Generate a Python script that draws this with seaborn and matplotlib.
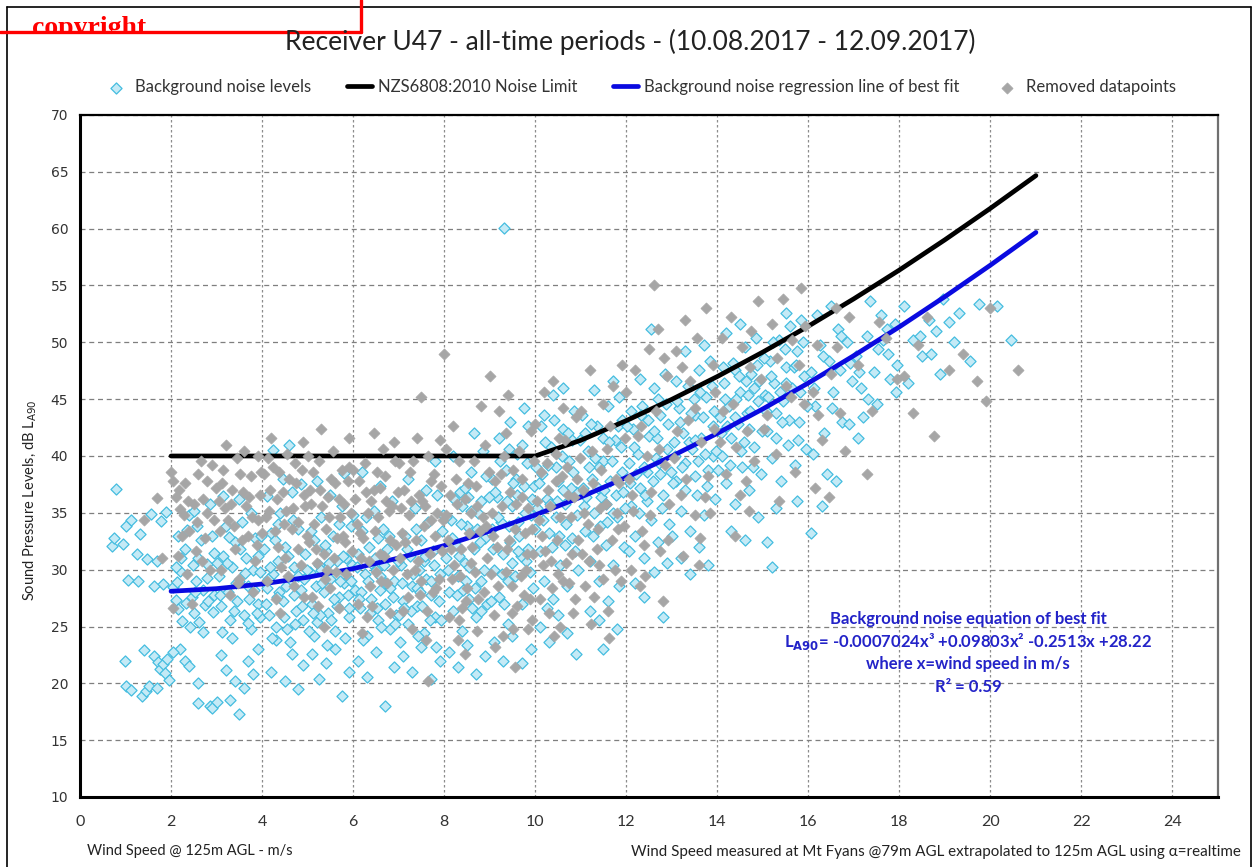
import numpy as np
import pandas as pd
import matplotlib
matplotlib.use("Agg")
import matplotlib.pyplot as plt
from matplotlib.transforms import Bbox, TransformedBbox
from matplotlib.lines import Line2D
import seaborn as sns

# background noise levels (wind speed m/s, dB LA90)
background_pts = [
    (0.78,37.1),(0.70,32.1),(0.74,32.8),(0.95,32.3),(1.02,33.8),(1.12,34.4),(1.05,29.1),(1.28,29.0),
    (1.25,31.4),(1.48,30.9),(1.70,30.8),(1.55,34.9),(1.78,34.3),(1.82,28.7),(1.62,22.4),(1.72,21.9),
    (1.76,21.3),(1.83,21.7),(1.86,20.9),(1.92,22.1),(1.96,20.3),(1.02,19.8),(1.12,19.4),(1.36,18.9),
    (1.45,19.3),(1.52,19.8),(1.70,19.6),(1.32,33.1),(1.62,28.6),(1.88,35.1),(0.98,22.0),(1.40,22.9),
    (2.05,28.5),(2.1,27.3),(2.15,26.5),(2.2,29.9),(2.3,31.8),(2.35,33.5),(2.4,34.8),(2.1,30.2),
    (2.45,27.6),(2.5,26.2),(2.55,29.0),(2.6,31.0),(2.65,32.6),(2.7,28.2),(2.75,26.9),(2.8,30.5),
    (2.9,33.0),(2.95,27.8),(2.2,23.0),(2.3,22.0),(2.6,18.3),(2.85,18.0),(2.9,17.8),(3.0,18.4),
    (2.4,21.5),(2.7,24.5),(2.25,25.5),(2.5,35.2),(2.85,35.8),(2.95,31.5),(2.05,22.8),(2.6,20.0),(2.15,33.0),
    (3.05,29.4),(3.1,26.8),(3.15,31.2),(3.2,33.8),(3.25,28.0),(3.3,25.6),(3.35,30.2),(3.4,32.4),
    (3.45,27.2),(3.5,29.0),(3.55,34.2),(3.6,26.0),(3.65,31.0),(3.7,28.6),(3.75,24.8),(3.8,30.0),
    (3.85,32.8),(3.9,27.0),(3.95,29.8),(3.1,22.5),(3.2,21.2),(3.3,18.5),(3.4,20.2),(3.5,17.3),
    (3.6,19.6),(3.7,22.0),(3.8,20.8),(3.9,23.0),(3.5,36.2),(3.15,36.5),(3.75,35.0),(3.35,24.0),(3.95,25.8),
    (4.05,31.8),(4.1,28.4),(4.15,26.0),(4.2,33.2),(4.25,29.6),(4.3,25.0),(4.35,30.8),(4.4,35.0),
    (4.45,27.2),(4.5,32.0),(4.55,24.8),(4.6,29.0),(4.65,36.8),(4.7,30.2),(4.75,26.4),(4.8,33.6),
    (4.85,28.2),(4.9,25.6),(4.95,31.4),(4.2,21.0),(4.3,23.8),(4.5,20.2),(4.65,22.6),(4.8,19.5),
    (4.9,21.6),(4.45,38.0),(4.25,40.5),(4.6,41.0),(4.1,36.5),(4.7,27.8),(4.35,34.0),(4.85,37.5),
    (5.05,29.8),(5.1,27.0),(5.15,32.6),(5.2,25.4),(5.25,30.4),(5.3,34.6),(5.35,28.0),(5.4,31.6),
    (5.45,26.2),(5.5,29.2),(5.55,33.0),(5.6,24.6),(5.65,30.8),(5.7,27.6),(5.75,35.6),(5.8,28.8),
    (5.85,31.0),(5.9,25.8),(5.95,33.8),(5.1,22.6),(5.25,20.4),(5.4,21.8),(5.6,23.0),(5.75,18.9),
    (5.9,21.0),(5.2,37.8),(5.5,36.6),(5.8,38.5),(5.3,30.0),(5.65,26.8),(5.15,24.2),(5.95,29.0),
    (6.05,28.2),(6.1,31.4),(6.15,26.6),(6.2,33.4),(6.25,29.6),(6.3,24.2),(6.35,32.0),(6.4,27.4),
    (6.45,35.2),(6.5,30.0),(6.55,25.6),(6.6,29.4),(6.65,33.6),(6.7,27.0),(6.75,31.8),(6.8,24.8),
    (6.85,36.0),(6.9,29.0),(6.95,26.0),(6.1,22.0),(6.3,20.6),(6.5,22.8),(6.7,18.0),(6.9,21.4),
    (6.2,38.6),(6.6,37.4),(6.4,30.6),(6.8,28.4),(6.0,34.8),(6.55,32.8),
    (7.05,30.4),(7.1,27.2),(7.15,33.0),(7.2,25.2),(7.25,31.2),(7.3,28.6),(7.35,35.4),(7.4,26.8),
    (7.45,30.0),(7.5,32.6),(7.55,24.4),(7.6,29.2),(7.65,34.2),(7.7,27.8),(7.75,31.6),(7.8,25.8),
    (7.85,36.6),(7.9,29.6),(7.95,33.4),(7.1,22.4),(7.3,21.0),(7.5,23.2),(7.7,20.4),(7.9,22.0),
    (7.2,38.0),(7.6,37.0),(7.8,39.6),(7.4,28.4),(7.0,26.0),(7.55,30.8),
    (8.05,31.0),(8.1,28.0),(8.15,34.4),(8.2,26.4),(8.25,32.2),(8.3,29.4),(8.35,36.8),(8.4,24.6),
    (8.45,30.6),(8.5,33.8),(8.55,27.4),(8.6,38.6),(8.65,31.8),(8.7,25.8),(8.75,35.0),(8.8,29.0),
    (8.85,40.4),(8.9,32.8),(8.95,27.0),(8.1,22.8),(8.3,21.4),(8.5,23.4),(8.7,20.8),(8.9,22.4),
    (8.2,40.0),(8.45,37.2),(8.65,42.0),(8.8,36.0),(8.05,34.6),(8.55,30.2),(8.4,35.6),
    (9.05,33.6),(9.1,30.0),(9.15,36.4),(9.2,27.6),(9.25,34.2),(9.3,31.4),(9.35,38.8),(9.4,25.2),
    (9.45,32.4),(9.5,35.6),(9.55,29.4),(9.6,40.2),(9.65,33.0),(9.7,27.0),(9.75,37.4),(9.8,30.8),
    (9.85,42.6),(9.9,34.8),(9.95,28.4),(9.1,23.6),(9.3,22.0),(9.5,24.2),(9.7,21.8),(9.9,23.0),
    (9.32,60.1),(9.2,41.6),(9.45,43.0),(9.75,44.2),(9.6,36.6),(9.05,38.0),(9.85,31.8),(9.4,29.0),
    (10.05,35.4),(10.1,31.6),(10.15,38.4),(10.2,29.0),(10.25,36.2),(10.3,33.2),(10.35,40.8),(10.4,27.4),
    (10.45,34.6),(10.5,37.8),(10.55,30.4),(10.6,42.4),(10.65,35.8),(10.7,28.6),(10.75,39.6),(10.8,32.8),
    (10.85,44.0),(10.9,36.8),(10.95,30.0),(10.1,25.0),(10.3,23.6),(10.5,26.0),(10.7,24.4),(10.9,22.6),
    (10.2,43.6),(10.4,45.4),(10.6,46.0),(10.8,41.4),(10.0,33.6),(10.45,39.0),(10.65,32.2),(10.25,26.6),
    (11.05,37.2),(11.1,33.4),(11.15,40.4),(11.2,30.8),(11.25,38.0),(11.3,35.0),(11.35,42.6),(11.4,29.0),
    (11.45,36.4),(11.5,39.6),(11.55,32.2),(11.6,44.4),(11.65,37.8),(11.7,30.4),(11.75,41.4),(11.8,34.6),
    (11.85,45.2),(11.9,38.6),(11.95,32.0),(11.2,26.4),(11.4,25.6),(11.6,27.2),(11.8,24.8),(11.5,23.0),
    (11.3,45.8),(11.7,46.6),(11.9,43.2),(11.1,42.0),(11.55,35.8),(11.85,28.6),(11.4,39.0),
    (12.05,39.4),(12.1,35.6),(12.15,42.4),(12.2,33.0),(12.25,40.2),(12.3,37.2),(12.35,44.4),(12.4,31.0),
    (12.45,38.6),(12.5,41.8),(12.55,34.4),(12.6,46.0),(12.65,39.8),(12.7,32.4),(12.75,43.6),(12.8,36.6),
    (12.85,47.2),(12.9,40.6),(12.95,34.0),(12.2,28.8),(12.4,27.6),(12.6,29.8),(12.8,25.8),(12.55,51.2),
    (12.3,46.8),(12.7,45.0),(12.9,30.6),(12.1,44.0),(12.45,36.0),(12.75,38.4),(12.05,31.6),
    (13.05,41.2),(13.1,37.8),(13.15,44.2),(13.2,35.2),(13.25,42.0),(13.3,39.4),(13.35,46.2),(13.4,33.4),
    (13.45,40.6),(13.5,43.6),(13.55,36.6),(13.6,47.6),(13.65,41.6),(13.7,34.8),(13.75,45.2),(13.8,38.8),
    (13.85,48.4),(13.9,42.6),(13.95,36.2),(13.2,31.0),(13.4,29.6),(13.6,32.0),(13.8,30.4),(13.3,49.2),
    (13.7,49.8),(13.1,46.6),(13.5,38.2),(13.9,40.0),(13.0,33.0),
    (14.05,43.4),(14.1,40.0),(14.15,46.4),(14.2,37.6),(14.25,44.4),(14.3,41.6),(14.35,48.2),(14.4,35.8),
    (14.45,42.8),(14.5,45.6),(14.55,39.0),(14.6,49.6),(14.65,43.8),(14.7,37.0),(14.75,47.2),(14.8,40.8),
    (14.85,50.4),(14.9,44.8),(14.95,38.4),(14.3,33.4),(14.6,32.6),(14.9,34.6),(14.2,50.8),(14.5,51.6),
    (14.8,46.0),(14.4,47.6),(14.7,42.4),
    (15.05,45.4),(15.1,42.2),(15.15,48.4),(15.2,39.8),(15.25,46.4),(15.3,43.8),(15.35,50.2),(15.4,37.8),
    (15.45,44.8),(15.5,47.8),(15.55,41.0),(15.6,51.4),(15.65,46.0),(15.7,39.2),(15.75,49.2),(15.8,43.0),
    (15.85,52.0),(15.9,47.0),(15.95,40.6),(15.1,32.4),(15.2,30.2),(15.3,35.4),(15.5,52.6),(15.75,36.0),
    (16.05,47.4),(16.15,44.4),(16.25,49.8),(16.35,42.0),(16.45,48.4),(16.55,45.6),(16.65,51.2),(16.75,43.0),
    (16.85,50.0),(16.95,46.6),(16.2,52.4),(16.5,53.2),(16.1,40.2),(16.4,38.4),(16.7,47.6),(16.9,42.8),
    (16.3,35.6),(16.6,37.8),(16.05,33.2),
    (17.05,48.8),(17.15,46.0),(17.3,50.6),(17.45,47.4),(17.6,52.4),(17.75,49.0),(17.9,51.6),(17.2,43.4),
    (17.5,44.6),(17.8,46.8),(17.35,53.6),(17.65,50.2),(17.1,41.6),(17.95,48.0),
    (18.1,53.2),(18.3,50.2),(18.5,48.8),(18.65,52.0),(18.8,51.0),(18.95,53.8),(18.2,46.4),(18.45,50.6),
    (18.7,49.0),(18.9,47.2),
    (19.1,51.8),(19.3,52.6),(19.55,48.4),(19.75,53.4),(20.15,53.2),(20.45,50.2),(19.2,50.0),
    # denser core of the cloud
    (2.12,28.9),(2.32,27.1),(2.48,30.4),(2.62,25.4),(2.78,29.3),(2.92,26.3),(3.08,27.8),(3.22,30.6),
    (3.38,26.4),(3.52,31.8),(3.68,25.3),(3.82,28.2),(3.98,33.0),(2.22,31.0),(2.58,33.8),(3.28,32.9),
    (3.62,29.7),(3.88,26.2),(2.42,25.0),(3.12,24.5),
    (4.08,27.0),(4.18,30.2),(4.28,32.6),(4.38,28.0),(4.48,25.8),(4.58,31.2),(4.68,34.4),(4.78,29.4),
    (4.88,26.8),(4.98,30.0),(5.08,33.4),(5.18,28.6),(5.28,26.0),(5.38,32.2),(5.48,30.6),(5.58,27.4),
    (5.68,34.0),(5.78,31.2),(5.88,27.8),(5.98,30.4),(4.22,24.0),(4.62,23.6),(5.02,24.6),(5.42,23.4),(5.82,24.0),
    (6.08,30.2),(6.18,28.0),(6.28,34.6),(6.38,26.2),(6.48,31.0),(6.58,28.2),(6.68,30.4),(6.78,33.0),
    (6.88,27.6),(6.98,30.8),(7.08,28.8),(7.18,31.8),(7.28,26.4),(7.38,33.6),(7.48,28.0),(7.58,31.2),
    (7.68,25.6),(7.78,30.4),(7.88,27.2),(7.98,34.8),(6.22,23.8),(6.62,25.0),(7.02,23.6),(7.42,24.2),(7.82,23.2),
    (8.08,30.0),(8.18,32.8),(8.28,27.8),(8.38,34.0),(8.48,29.0),(8.58,35.2),(8.68,28.4),(8.78,32.4),
    (8.88,30.0),(8.98,36.4),(9.08,31.8),(9.18,34.6),(9.28,29.6),(9.38,36.0),(9.48,30.6),(9.58,38.0),
    (9.68,31.2),(9.78,35.0),(9.88,29.8),(9.98,37.4),(8.22,36.2),(8.62,26.6),(9.02,27.2),(9.42,40.6),(9.82,39.4),
    (10.08,37.6),(10.18,34.4),(10.28,39.2),(10.38,32.0),(10.48,36.0),(10.58,40.0),(10.68,34.0),(10.78,37.2),
    (10.88,31.6),(10.98,41.4),(11.08,35.6),(11.18,39.0),(11.28,33.0),(11.38,37.2),(11.48,41.6),(11.58,34.2),
    (11.68,39.6),(11.78,36.6),(11.88,40.8),(11.98,35.4),(10.22,41.2),(10.62,37.0),(11.02,43.6),(11.42,33.8),(11.82,42.6),
    (12.08,37.6),(12.18,40.8),(12.28,35.0),(12.38,39.0),(12.48,43.2),(12.58,37.8),(12.68,41.6),(12.78,35.4),
    (12.88,44.6),(12.98,38.6),(13.08,40.0),(13.18,43.0),(13.28,37.0),(13.38,41.2),(13.48,45.0),(13.58,39.6),
    (13.68,43.4),(13.78,37.4),(13.88,46.2),(13.98,40.4),
    (14.08,42.0),(14.18,45.0),(14.28,39.2),(14.38,43.4),(14.48,47.0),(14.58,41.2),(14.68,45.4),(14.78,39.0),
    (14.88,48.0),(14.98,42.2),(15.08,44.0),(15.18,47.0),(15.28,41.6),(15.38,45.6),(15.48,49.4),(15.58,43.2),
    (15.68,47.8),(15.78,41.4),(15.88,50.0),(15.98,44.4),
    (16.12,46.0),(16.32,48.8),(16.52,44.2),(16.72,50.6),(16.92,48.2),(17.12,47.4),(17.32,45.0),(17.52,49.4),
    (17.72,51.2),(17.92,45.6),
    (9.12,36.8),(9.22,39.6),(9.42,33.8),(9.52,37.6),(9.62,34.2),(9.72,41.0),(9.92,36.2),(10.02,39.0),
    (10.12,42.6),(10.32,35.8),(10.42,43.2),(10.52,33.0),(10.72,42.0),(10.82,38.6),(10.92,34.8),(11.12,36.4),
    (11.22,42.8),(11.32,39.8),(11.52,37.0),(11.62,41.2),(11.72,35.0),(11.92,36.8),(12.02,42.6),(12.22,38.4),
    (12.32,43.6),(12.42,36.6),(12.62,42.2),(12.72,39.4),(12.92,42.8),(13.02,37.6),(13.12,44.8),(13.22,39.0),
    (13.42,43.8),(13.52,41.4),(13.62,45.6),(13.72,40.2),(13.92,44.0),(14.02,38.8),(14.12,47.8),(14.22,42.6),
    (14.42,45.0),(14.52,40.4),(14.62,46.6),(14.72,44.0),(14.92,46.6),(15.02,48.6),(15.12,45.2),(15.22,50.0),
    (15.42,43.0),(15.52,46.4),(15.72,48.0),(15.82,45.6),(8.32,31.2),(8.52,36.4),(8.72,33.6),(8.92,38.2),
    (8.42,28.2),(8.82,26.4),(9.32,27.0),(9.62,31.6),
    (4.12,29.2),(4.32,27.6),(4.52,28.6),(4.72,25.2),(4.92,29.2),(5.12,26.2),(5.32,28.8),(5.52,25.6),
    (5.72,29.0),(5.92,26.6),(6.12,27.4),(6.32,29.0),(6.52,26.6),(6.72,28.8),(6.92,25.2),(7.12,26.6),
    (7.32,29.6),(7.52,26.8),(7.72,29.0),(7.92,25.6),(2.52,28.0),(2.82,27.2),(3.02,30.6),(3.42,28.8),
    (3.72,27.4),(3.92,31.2),
]

# removed datapoints (grey)
removed_pts = [
    (2.0,38.6),(2.05,37.8),(2.1,36.4),(2.2,35.3),(2.3,37.6),(2.4,33.4),(2.5,35.8),(2.6,38.4),
    (2.7,36.2),(2.8,37.8),(2.9,39.2),(2.15,31.2),(2.35,29.6),(2.55,31.6),(2.75,32.8),(2.95,34.4),
    (2.05,26.6),(2.45,27.0),(2.65,39.6),(2.85,30.0),(2.25,33.0),(1.7,36.3),(1.4,34.4),(1.8,31.0),
    (3.05,36.0),(3.15,38.8),(3.25,34.4),(3.35,37.0),(3.45,39.8),(3.55,32.6),(3.65,35.6),(3.75,38.2),
    (3.85,30.8),(3.95,36.6),(3.1,30.0),(3.3,27.8),(3.5,29.2),(3.7,33.0),(3.9,40.0),(3.2,41.0),
    (3.6,40.4),(3.4,31.8),(3.8,28.0),
    (4.05,38.4),(4.15,35.2),(4.25,39.0),(4.35,32.0),(4.45,36.8),(4.55,40.2),(4.65,33.6),(4.75,37.6),
    (4.85,30.4),(4.95,35.6),(4.1,29.0),(4.3,27.4),(4.5,31.0),(4.7,28.6),(4.9,41.2),(4.2,41.6),
    (4.6,38.0),(4.8,34.2),(4.4,26.2),(4.0,33.2),
    (5.05,37.0),(5.15,34.0),(5.25,39.6),(5.35,31.4),(5.45,36.4),(5.55,40.4),(5.65,32.8),(5.75,38.8),
    (5.85,29.6),(5.95,35.0),(5.1,27.6),(5.3,42.4),(5.5,28.4),(5.7,26.6),(5.9,41.6),(5.2,30.6),
    (5.4,33.6),(5.6,37.6),(5.8,35.8),(5.0,40.0),(5.35,25.0),
    (6.05,36.2),(6.15,33.2),(6.25,39.4),(6.35,30.8),(6.45,37.0),(6.55,34.6),(6.65,40.6),(6.75,28.8),
    (6.85,35.6),(6.95,32.2),(6.1,27.0),(6.3,25.8),(6.5,29.8),(6.7,38.2),(6.9,41.2),(6.2,24.4),
    (6.4,36.0),(6.6,31.4),(6.8,26.2),(6.0,38.8),(6.45,42.0),
    (7.05,35.4),(7.15,32.4),(7.25,38.6),(7.35,30.0),(7.45,36.6),(7.55,33.8),(7.65,40.0),(7.75,28.0),
    (7.85,35.0),(7.95,31.6),(7.1,26.4),(7.3,24.8),(7.5,29.0),(7.7,37.8),(7.9,41.4),(7.2,27.6),
    (7.4,41.6),(7.6,23.8),(7.8,33.0),(7.0,39.4),(7.5,45.2),(7.65,20.2),
    (8.05,34.8),(8.15,31.8),(8.25,38.0),(8.35,29.4),(8.45,36.2),(8.55,33.2),(8.65,39.6),(8.75,27.4),
    (8.85,34.6),(8.95,31.0),(8.1,25.8),(8.3,23.8),(8.5,28.4),(8.7,37.4),(8.9,41.0),(8.0,49.0),
    (8.2,42.6),(8.4,26.6),(8.6,30.6),(8.8,44.4),(8.45,22.6),(8.05,40.6),
    (9.05,35.0),(9.15,32.0),(9.25,38.4),(9.35,29.8),(9.45,36.8),(9.55,33.6),(9.65,40.4),(9.75,27.8),
    (9.85,35.4),(9.95,31.4),(9.1,26.0),(9.3,24.2),(9.5,28.6),(9.7,38.0),(9.9,42.2),(9.2,44.0),
    (9.4,45.4),(9.6,26.8),(9.8,30.0),(9.0,47.0),(9.55,21.4),(9.85,24.8),(9.35,42.0),
    (10.05,36.0),(10.15,33.0),(10.25,39.4),(10.35,30.8),(10.45,37.8),(10.55,34.6),(10.65,41.4),(10.75,28.8),
    (10.85,36.4),(10.95,32.6),(10.1,27.4),(10.3,26.2),(10.5,29.6),(10.7,39.0),(10.9,43.4),(10.2,45.6),
    (10.4,46.6),(10.6,44.2),(10.8,31.4),(10.0,42.8),(10.55,25.0),(10.45,40.2),
    (11.05,37.0),(11.15,34.0),(11.25,40.4),(11.35,31.8),(11.45,38.8),(11.55,35.8),(11.65,42.6),(11.75,30.0),
    (11.85,37.6),(11.95,33.8),(11.1,28.6),(11.3,27.6),(11.5,44.6),(11.7,46.2),(11.9,48.0),(11.2,47.6),
    (11.4,30.4),(11.6,26.4),(11.8,35.0),(11.0,44.0),
    (12.05,38.0),(12.15,35.2),(12.25,41.8),(12.35,33.4),(12.45,40.0),(12.55,36.8),(12.65,44.0),(12.75,31.6),
    (12.85,39.2),(12.95,35.8),(12.1,30.0),(12.3,28.6),(12.5,49.4),(12.7,51.2),(12.9,47.0),(12.2,47.6),
    (12.4,32.2),(12.6,55.0),(12.8,27.2),(12.0,45.6),
    (13.05,39.8),(13.2,36.6),(13.35,43.2),(13.5,34.8),(13.65,41.2),(13.8,38.2),(13.95,45.6),(13.1,49.2),
    (13.3,52.0),(13.55,50.4),(13.75,53.0),(13.9,48.0),(13.25,31.2),(13.6,30.4),(13.4,46.6),(13.85,35.0),
    (14.05,41.2),(14.2,38.4),(14.35,44.6),(14.5,36.6),(14.65,42.2),(14.8,39.6),(14.95,46.8),(14.1,50.4),
    (14.3,52.2),(14.55,49.6),(14.75,51.0),(14.9,53.6),(14.4,33.0),(14.7,35.2),
    (15.1,43.6),(15.3,40.2),(15.5,46.2),(15.7,38.6),(15.9,44.6),(15.2,51.6),(15.45,53.8),(15.65,50.2),
    (15.85,54.8),(15.35,36.0),(15.8,48.0),
    (16.1,45.6),(16.3,41.4),(16.5,47.2),(16.7,43.8),(16.9,52.2),(16.2,49.8),(16.6,53.0),(16.15,37.2),
    (16.45,36.4),(16.8,40.4),
    (17.1,48.0),(17.4,44.0),(17.7,50.4),(17.95,46.8),(17.3,38.4),(17.55,51.8),(18.1,47.0),(18.4,49.8),
    (18.3,43.8),(18.75,41.8),(18.6,52.2),(19.1,47.6),(19.4,49.0),(19.7,46.6),(20.0,53.0),(20.6,47.6),(19.9,44.8),
    # denser core
    (2.18,37.0),(2.38,36.0),(2.58,34.2),(2.78,35.0),(2.98,37.2),(3.18,35.4),(3.38,33.8),(3.58,36.8),
    (3.78,34.6),(3.98,38.6),(2.28,34.8),(2.68,30.8),(3.08,33.4),(3.48,28.8),(3.88,32.2),
    (4.08,34.6),(4.18,37.0),(4.28,33.4),(4.38,38.6),(4.48,34.0),(4.58,29.4),(4.68,35.4),(4.78,31.8),
    (4.88,38.8),(4.98,33.0),(5.08,35.8),(5.18,31.8),(5.28,37.0),(5.38,29.2),(5.48,34.6),(5.58,31.0),
    (5.68,36.2),(5.78,33.0),(5.88,37.8),(5.98,31.6),(4.42,30.2),(4.92,27.6),(5.22,26.8),(5.62,29.8),
    (6.08,34.0),(6.18,31.0),(6.28,36.8),(6.38,28.6),(6.48,33.4),(6.58,37.2),(6.68,31.2),(6.78,35.2),
    (6.88,30.0),(6.98,36.8),(7.08,33.2),(7.18,29.6),(7.28,36.0),(7.38,32.6),(7.48,27.8),(7.58,35.6),
    (7.68,31.4),(7.78,38.4),(7.88,29.2),(7.98,34.4),(6.42,26.8),(6.82,32.6),(7.22,34.8),(7.62,26.4),
    (8.08,32.6),(8.18,29.2),(8.28,35.8),(8.38,31.8),(8.48,27.2),(8.58,35.0),(8.68,29.8),(8.78,33.4),
    (8.88,28.0),(8.98,38.6),(9.08,33.0),(9.18,28.6),(9.28,35.6),(9.38,31.8),(9.48,26.2),(9.58,35.8),
    (9.68,29.4),(9.78,33.2),(9.88,27.4),(9.98,39.6),(8.32,25.6),(8.72,24.6),(9.12,23.2),(9.52,24.8),(9.92,25.6),
    (10.08,34.4),(10.18,30.4),(10.28,37.0),(10.38,28.4),(10.48,32.6),(10.58,38.2),(10.68,30.6),(10.78,34.6),
    (10.88,27.4),(10.98,39.8),(11.08,35.0),(11.18,30.8),(11.28,37.6),(11.38,33.6),(11.48,29.2),(11.58,40.6),
    (11.68,32.6),(11.78,38.0),(11.88,29.0),(11.98,41.6),(10.42,24.2),(10.82,26.2),(11.22,25.2),(11.62,24.0),
    (12.12,36.6),(12.32,42.6),(12.52,34.8),(12.72,40.6),(12.92,32.6),(13.12,42.2),(13.32,38.0),(13.52,44.2),
    (13.72,36.4),(13.92,42.4),(12.42,29.4),(12.82,48.6),(13.22,47.8),(13.62,32.8),
    (14.12,44.0),(14.42,40.8),(14.72,47.8),(15.02,42.4),(15.32,48.6),(15.62,45.2),(15.92,51.4),(16.22,43.6),
    (16.62,49.6),(14.62,37.8),
    (3.12,37.6),(3.32,35.8),(3.52,38.4),(3.72,36.4),(3.92,34.4),(4.12,39.8),(4.32,36.2),(4.52,35.2),
    (4.72,39.4),(4.92,36.6),(5.12,38.6),(5.32,35.6),(5.52,38.0),(5.72,34.6),(5.92,39.0),(6.12,37.8),
    (6.32,35.0),(6.52,38.6),(6.72,36.0),(6.92,39.6),(7.12,37.0),(7.32,39.6),(7.52,36.0),(7.72,34.4),
    (7.92,37.4),(8.12,36.6),(8.32,39.6),(8.52,37.6),(8.72,35.6),(8.92,33.8),(9.12,37.8),(9.32,40.0),
    (9.52,38.8),(9.72,36.4),(9.92,33.6),(10.12,38.6),(10.32,35.6),(10.52,41.6),(10.72,36.6),(10.92,38.0),
    (5.02,32.4),(5.42,30.0),(5.82,32.4),(6.22,32.8),(6.62,29.0),(7.02,31.0),(7.42,30.8),(7.82,28.4),
    (8.22,30.4),(8.62,32.0),(9.02,29.6),(9.42,32.6),(9.82,31.4),(10.22,31.6),(10.62,29.0),(11.02,31.4),
    (11.42,35.4),(11.82,33.6),
]

# regression line of best fit, read at each m/s
fit_wind = [2, 3, 4, 5, 6, 7, 8, 9, 10, 11, 12, 13, 14, 15, 16, 17, 18, 19, 20, 21]
fit_level = [28.1, 28.33, 28.74, 29.33, 30.09, 31.02, 32.12, 33.39, 34.81, 36.38,
             38.11, 39.98, 41.99, 44.14, 46.42, 48.83, 51.36, 54.02, 56.79, 59.67]

# NZS6808:2010 limit
limit_wind = [2, 10, 11, 12, 13, 14, 15, 16, 17, 18, 19, 20, 21]
limit_level = [40, 40, 41.38, 43.11, 44.98, 46.99, 49.14, 51.42, 53.83, 56.36, 59.02, 61.79, 64.67]

sns.set_style("white")
plt.rcParams['font.family'] = ['Lato', 'DejaVu Sans']

bg = pd.DataFrame(background_pts, columns=['wind', 'level'])
rm = pd.DataFrame(removed_pts, columns=['wind', 'level'])
fit = pd.DataFrame({'wind': fit_wind, 'level': fit_level})
lim = pd.DataFrame({'wind': limit_wind, 'level': limit_level})

W, H = 1255, 867
fig = plt.figure(figsize=(W / 100, H / 100), dpi=100)
ax = fig.add_axes([80 / W, 1 - 797 / H, (1218 - 80) / W, (797 - 115) / H])

sns.scatterplot(data=bg, x='wind', y='level', marker='D', s=32, color='#c4eaf6',
                edgecolor='#45bde0', linewidth=0.9, label='Background noise levels', zorder=2, ax=ax)
sns.lineplot(data=lim, x='wind', y='level', color='black', linewidth=3.4, estimator=None,
             label='NZS6808:2010 Noise Limit', zorder=3, ax=ax)
sns.lineplot(data=fit, x='wind', y='level', color='#0a0ae0', linewidth=3.4, estimator=None,
             label='Background noise regression line of best fit', zorder=3, ax=ax)
sns.scatterplot(data=rm, x='wind', y='level', marker='D', s=32, color='#a6a6a6',
                edgecolor='#a6a6a6', linewidth=0.5, label='Removed datapoints', zorder=4, ax=ax)

ax.set_xlim(0, 25)
ax.set_ylim(10, 70)
ax.set_xticks(np.arange(0, 25, 2))
ax.set_yticks(np.arange(10, 71, 5))
ax.set_xlabel('')
ax.set_ylabel('')
ax.set_axisbelow(True)
ax.grid(axis='y', linestyle=(0, (4, 3)), color='#7f7f7f', linewidth=0.9)
ax.grid(axis='x', linestyle=(0, (2, 2)), color='#8c8c8c', linewidth=0.9)
for side in ['left', 'bottom']:
    ax.spines[side].set_color('black')
    ax.spines[side].set_linewidth(2.2)
ax.spines['top'].set_color('black')
ax.spines['top'].set_linewidth(1.6)
ax.spines['right'].set_color('#707070')
ax.spines['right'].set_linewidth(1.6)
ax.tick_params(axis='both', direction='out', length=5, width=0.9, color='#808080')
ax.tick_params(axis='x', pad=8)
for t in ax.get_yticklabels():
    t.set_family('DejaVu Sans')
    t.set_fontsize(10)
    t.set_color('#333333')
for t in ax.get_xticklabels():
    t.set_fontsize(11.5)
    t.set_color('#333333')

handles, labels = ax.get_legend_handles_labels()
ax.get_legend().remove()
fig.legend(handles, labels, loc='center', bbox_to_anchor=(640 / W, 1 - 87 / H), ncol=4,
           frameon=False, fontsize=12, handlelength=1.5, handletextpad=0.4, columnspacing=2.1,
           labelcolor='#333333')

fig.text(630 / W, 1 - 42 / H, 'Receiver U47 - all-time periods - (10.08.2017 - 12.09.2017)',
         ha='center', va='center', fontsize=19, color='#222222')
fig.text(30 / W, 1 - 500 / H, 'Sound Pressure Levels, dB L$_{\\mathrm{A90}}$', rotation=90,
         ha='center', va='center', fontsize=10.5, color='#222222')
fig.text(87 / W, 1 - 851 / H, 'Wind Speed @ 125m AGL - m/s', ha='left', va='center',
         fontsize=10.5, color='#222222')
fig.text(1241 / W, 1 - 852 / H,
         'Wind Speed measured at Mt Fyans @79m AGL extrapolated to 125m AGL using \u03b1=realtime',
         ha='right', va='center', fontsize=10.9, color='#222222')

eq_color = '#2323c8'
eq_lines = ['Background noise equation of best fit',
            'L$_{\\mathbf{A90}}$= -0.0007024x\u00b3 +0.09803x\u00b2 -0.2513x +28.22',
            'where x=wind speed in m/s',
            'R\u00b2 = 0.59']
for i, line in enumerate(eq_lines):
    fig.text(968 / W, 1 - (619 + 22.5 * i) / H, line, ha='center', va='center',
             fontsize=12, fontweight='bold', color=eq_color)

# outer chart frame
fig.add_artist(Line2D([7 / W, 1251 / W], [1 - 7 / H, 1 - 7 / H], color='black', lw=1.2))
fig.add_artist(Line2D([7 / W, 7 / W], [0, 1 - 7 / H], color='black', lw=1.2))
fig.add_artist(Line2D([1251 / W, 1251 / W], [0, 1 - 7 / H], color='black', lw=1.2))

# red copyright box
fig.add_artist(Line2D([0, 361 / W], [1 - 32 / H, 1 - 32 / H], color='red', lw=2.4))
fig.add_artist(Line2D([361 / W, 361 / W], [1 - 32 / H, 1], color='red', lw=2.4))
ct = fig.text(32 / W, 1 - 35 / H, 'copyright', ha='left', va='baseline', fontsize=20,
              fontweight='bold', color='red', family=['Liberation Serif', 'DejaVu Serif'])
ct.set_clip_box(TransformedBbox(Bbox([[0, 1 - 31 / H], [361 / W, 1]]), fig.transFigure))
ct.set_clip_on(True)

fig.savefig('out.png', dpi=100)
